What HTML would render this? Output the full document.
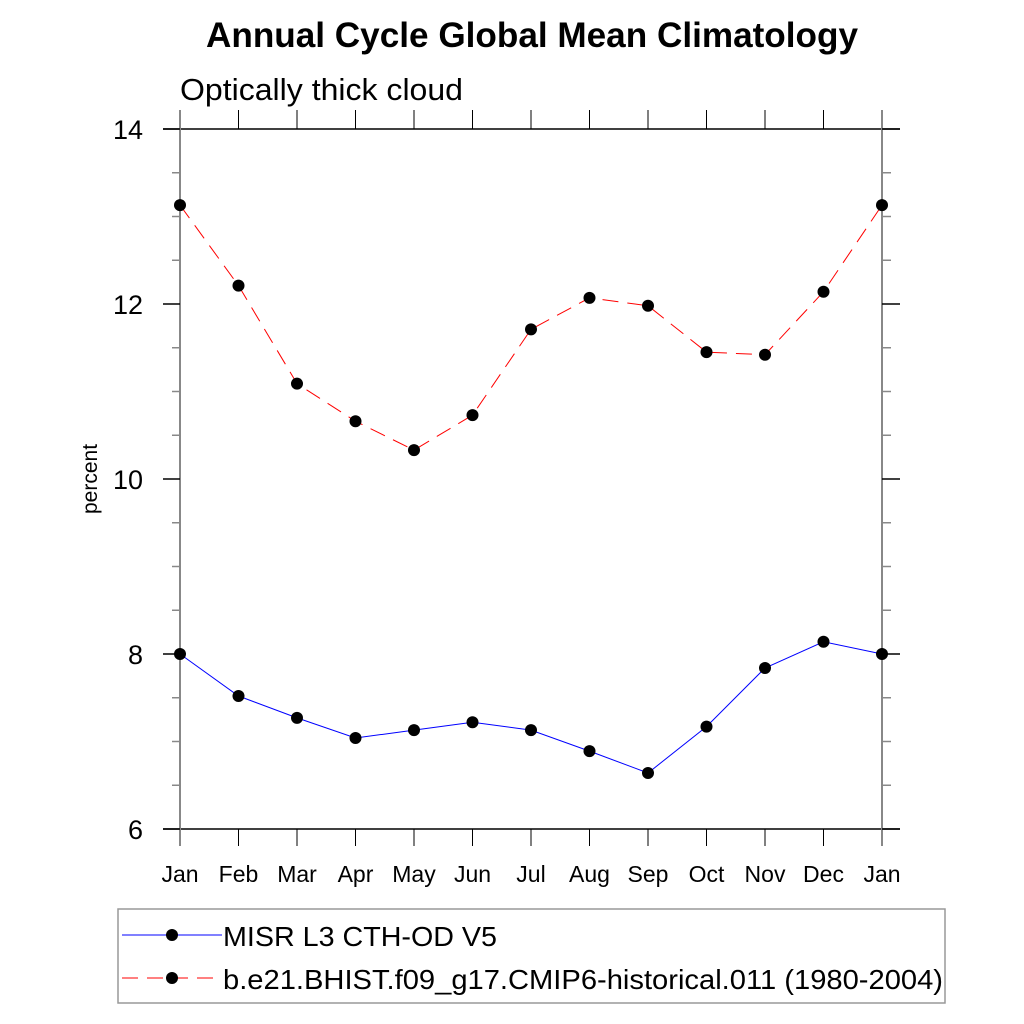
<!DOCTYPE html>
<html><head><meta charset="utf-8"><style>
body{margin:0;background:#fff}
svg{display:block;font-family:"Liberation Sans",sans-serif}
</style></head><body>
<svg id="c" width="1024" height="1024" viewBox="0 0 1024 1024">
<text x="532" y="47" text-anchor="middle" font-size="35" font-weight="bold" textLength="652" lengthAdjust="spacingAndGlyphs">Annual Cycle Global Mean Climatology</text>
<text x="180" y="100" font-size="31" textLength="283" lengthAdjust="spacingAndGlyphs">Optically thick cloud</text>
<text transform="translate(97,479) rotate(-90)" text-anchor="middle" font-size="21">percent</text>
<g id="axes"></g>
<g id="series"></g>
<g>
<rect x="118" y="909" width="827" height="94" fill="none" stroke="#999" stroke-width="1.5"/>
<g>
<line x1="122" y1="935" x2="222" y2="935" stroke="#00f" stroke-width="1"/>
<circle cx="172" cy="935" r="6" fill="#000"/>
<text x="223" y="946" font-size="28" textLength="274" lengthAdjust="spacingAndGlyphs">MISR L3 CTH-OD V5</text></g>
<g>
<line x1="122" y1="978" x2="222" y2="978" stroke="#f00" stroke-width="1" stroke-dasharray="16,9"/>
<circle cx="172" cy="978" r="6" fill="#000"/>
<text x="223" y="989" font-size="28" textLength="720" lengthAdjust="spacingAndGlyphs">b.e21.BHIST.f09_g17.CMIP6-historical.011 (1980-2004)</text></g>
</g>
</svg>
<script>
const months=["Jan","Feb","Mar","Apr","May","Jun","Jul","Aug","Sep","Oct","Nov","Dec","Jan"];
const misr=[8.0,7.52,7.27,7.04,7.13,7.22,7.13,6.89,6.64,7.17,7.84,8.14,8.0];
const model=[13.13,12.21,11.09,10.66,10.33,10.73,11.71,12.07,11.98,11.45,11.42,12.14,13.13];
const yTicks=[6,8,10,12,14];
const NS="http://www.w3.org/2000/svg";
const x=i=>180+i*(882-180)/12;
const y=v=>829-(v-6)*87.5;
function mk(p,t,a){const e=document.createElementNS(NS,t);for(const k in a)e.setAttribute(k,a[k]);p.appendChild(e);return e;}
const ax=document.getElementById('axes');
let e;
e=mk(ax,'line',{x1:163,y1:129,x2:900,y2:129,stroke:'#000','stroke-width':1.5});

e=mk(ax,'line',{x1:163,y1:829,x2:900,y2:829,stroke:'#000','stroke-width':1.5});

e=mk(ax,'line',{x1:180,y1:110,x2:180,y2:846,stroke:'#888','stroke-width':2});

e=mk(ax,'line',{x1:882,y1:110,x2:882,y2:846,stroke:'#888','stroke-width':2});

months.forEach((m,i)=>{
 if(i>0&&i<12){mk(ax,'line',{x1:x(i),y1:829,x2:x(i),y2:846,stroke:'#000','stroke-width':1});
 mk(ax,'line',{x1:x(i),y1:129,x2:x(i),y2:110,stroke:'#000','stroke-width':1});}
 const t=mk(ax,'text',{x:x(i),y:882,'text-anchor':'middle','font-size':23});t.textContent=m;
 
 
});
yTicks.forEach(v=>{
 mk(ax,'line',{x1:163,y1:y(v),x2:180,y2:y(v),stroke:'#000','stroke-width':1.5});
 mk(ax,'line',{x1:882,y1:y(v),x2:900,y2:y(v),stroke:'#000','stroke-width':1.5});
 const t=mk(ax,'text',{x:143,y:y(v)+10,'text-anchor':'end','font-size':27});t.textContent=v;
 
 
});
for(let v=6.5;v<14;v+=0.5){if(v%2===0)continue;
 mk(ax,'line',{x1:172,y1:y(v),x2:180,y2:y(v),stroke:'#888','stroke-width':1.5});
 mk(ax,'line',{x1:882,y1:y(v),x2:891,y2:y(v),stroke:'#888','stroke-width':1.5});}
const sg=document.getElementById('series');
function draw(vals,color,dash,name){
 const g=mk(sg,'g',{});
 
 
 const a={points:vals.map((v,i)=>x(i)+','+y(v)).join(' '),fill:'none',stroke:color,'stroke-width':1};
 if(dash)a['stroke-dasharray']=dash;
 mk(g,'polyline',a);
 vals.forEach((v,i)=>{const c=mk(g,'circle',{cx:x(i),cy:y(v),r:6,fill:'#000'});
 
 });
}
draw(model,'#f00','16,9','series-model');
draw(misr,'#00f',null,'series-misr');
</script>
</body></html>
